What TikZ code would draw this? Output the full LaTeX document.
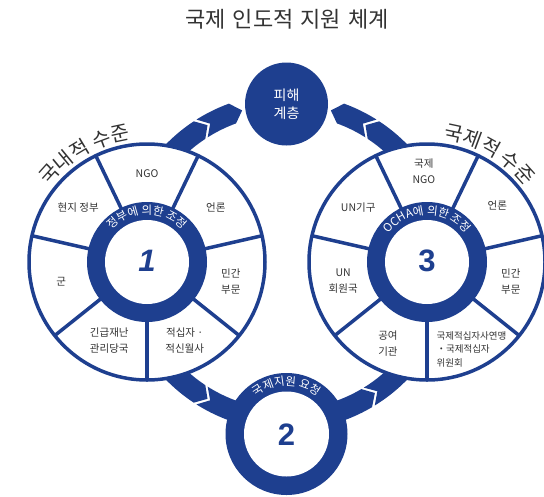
\documentclass[tikz,border=0pt]{standalone}
\usepackage{fontspec}
\setmainfont{Noto Sans CJK KR}
\newfontfamily\numfont{Liberation Sans}
\usetikzlibrary{decorations.text}
\definecolor{mainblue}{HTML}{1E3F8F}
\definecolor{txt}{HTML}{333333}
% chevron piece along the big arc: start angle, back-middle angle, end angle, front-middle angle
\newcommand\chevpiece[4]{%
  \fill[mainblue] (#1:168.5) arc[start angle=#1, end angle=#3, radius=168.5] -- (#4:158) -- (#3:147.5) arc[start angle=#3, end angle=#1, radius=147.5] -- (#2:158) -- cycle;}
\tikzset{
  lbl/.style={text=txt, align=center, inner sep=0pt, font=\fontsize{10.5}{16}\selectfont},
  spoke/.style={draw=mainblue, line width=3.5pt},
  bignum/.style={text=mainblue, inner sep=0pt, font=\numfont\bfseries\fontsize{31}{31}\selectfont},
}
\begin{document}
\begin{tikzpicture}[x=1pt,y=-1pt]
\useasboundingbox (0,0) rectangle (544,496);
\fill[white] (0,0) rectangle (544,496);

\node[text=txt, inner sep=0pt, font=\fontsize{22}{24}\selectfont] (title) at (287,19) {국제\hspace{0.1em} 인도적\hspace{0.1em} 지원\hspace{0.1em} 체계};

% arrows
\begin{scope}[shift={(286.5,262)}]
\chevpiece{215}{215}{236.6}{240}
\chevpiece{237.7}{241.1}{250}{253.7}
\chevpiece{325}{325}{303.4}{300}
\chevpiece{302.3}{298.9}{290}{286.3}
\chevpiece{145}{145}{123.4}{120}
\chevpiece{122.3}{118.9}{100}{100}
\chevpiece{80}{80}{59.5}{56}
\chevpiece{58.4}{54.9}{35}{35}
\end{scope}

% wheels
\foreach \cx/\nm in {147/c1, 427/c3} {
  \coordinate (\nm) at (\cx,262);
  \filldraw[fill=white, draw=mainblue, line width=3.5pt] (\nm) circle[radius=118];
  \begin{scope}[shift={(\nm)}]
    \foreach \a in {38.57,90,141.43,192.86,244.29,295.71,347.14}
      \draw[spoke] (\a:58) -- (\a:118);
  \end{scope}
  \fill[mainblue] (\nm) circle[radius=60];
  \fill[white] (\nm) circle[radius=42];
}

% top circle
\fill[mainblue] (286.5,104) circle[radius=41.5];
\node[text=white, align=center, inner sep=0pt, font=\fontsize{14}{18}\selectfont] (victims) at (286.5,104) {피해\\계층};

% ring 2
\coordinate (c2) at (286.5,434);
\fill[mainblue] (c2) circle[radius=61];
\fill[white] (c2) circle[radius=42.5];

% numbers
\node[bignum, font=\numfont\bfseries\itshape\fontsize{31}{31}\selectfont] (n1) at (147,261) {1};
\node[bignum] (n3) at (427,261) {3};
\node[bignum] (n2) at (286.5,435) {2};

% ring texts
\path[decorate, decoration={text along path, text align=center, text color=white,
  text={|\fontsize{11.5}{13}\selectfont|정부에 의한 조정}}]
  (c1) ++(180:47.5) arc[start angle=180, end angle=360, radius=47.5];
\path[decorate, decoration={text along path, text align=center, text color=white,
  text={|\fontsize{11.5}{13}\selectfont|OCHA에 의한 조정}}]
  (c3) ++(180:47.5) arc[start angle=180, end angle=360, radius=47.5];
\path[decorate, decoration={text along path, text align=center, text color=white,
  text={|\fontsize{11.5}{13}\selectfont|국제지원 요청}}]
  (c2) ++(180:48.5) arc[start angle=180, end angle=360, radius=48.5];

% level titles
\path[decorate, decoration={text along path, text align=center, text color=txt,
  text={|\fontsize{20}{22}\selectfont|국내적 수준}}]
  (c1) ++(180:124) arc[start angle=180, end angle=300, radius=124];
\path[decorate, decoration={text along path, text align=center, text color=txt,
  text={|\fontsize{20}{22}\selectfont|국제적 수준}}]
  (c3) ++(240:124) arc[start angle=240, end angle=360, radius=124];

% labels left wheel
\begin{scope}[shift={(c1)}]
\node[lbl] (l-ngo) at (270:88) {NGO};
\node[lbl] (l-media) at (321.4:88) {언론};
\node[lbl] (l-private) at (12.9:86) {민간\\부문};
\node[lbl] (l-redcross) at (64.3:87) {적십자 ·\\적신월사};
\node[lbl] (l-emerg) at (115.7:87) {긴급재난\\관리당국};
\node[lbl] (l-army) at (167.1:88) {군};
\node[lbl] (l-gov) at (218.6:88) {현지 정부};
\end{scope}

% labels right wheel
\begin{scope}[shift={(c3)}]
\node[lbl] (r-ngo) at (268:91) {국제\\NGO};
\node[lbl] (r-media) at (321.4:90) {언론};
\node[lbl] (r-private) at (12.9:86) {민간\\부문};
\node[lbl, align=left, font=\fontsize{9.5}{13.5}\selectfont] (r-redcross) at (63:98) {국제적십자사연맹\\・국제적십자\\위원회};
\node[lbl] (r-donor) at (115.7:90) {공여\\기관};
\node[lbl] (r-member) at (167.1:86) {UN\\회원국};
\node[lbl] (r-agency) at (218.6:88) {UN기구};
\end{scope}
\end{tikzpicture}
\end{document}
